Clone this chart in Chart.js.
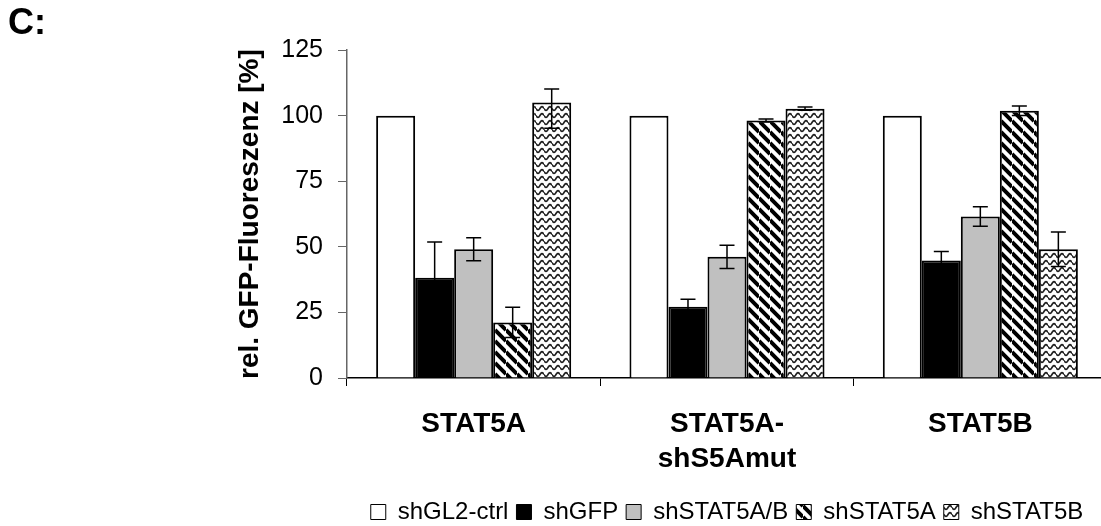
<!DOCTYPE html>
<html>
<head>
<meta charset="utf-8">
<script src="https://cdn.jsdelivr.net/npm/chart.js@4.4.1/dist/chart.umd.min.js"></script>
<style>
  html, body { margin: 0; padding: 0; background: #fff; overflow: hidden; width: 1101px; height: 526px; }
  #myChart { display: block; }
</style>
</head>
<body>
<canvas id="myChart" width="1110" height="534"></canvas>
<script>
// data
const categories = [['STAT5A'], ['STAT5A-', 'shS5Amut'], ['STAT5B']];
const seriesNames = ['shGL2-ctrl', 'shGFP', 'shSTAT5A/B', 'shSTAT5A', 'shSTAT5B'];
const ctrlValues = [100, 100, 100];
const gfpValues = [38.2, 27.2, 44.8];
const stat5abValues = [49.1, 46.2, 61.6];
const stat5aValues = [21.2, 98.2, 101.9];
const stat5bValues = [105.1, 102.7, 49.1];
const ctrlErr = [0, 0, 0];
const gfpErr = [13.7, 2.8, 3.4];
const stat5abErr = [4.4, 4.4, 3.7];
const stat5aErr = [5.8, 0.6, 1.8];
const stat5bErrUp = [5.1, 0.6, 6.6];
const stat5bErrDown = [9.9, 0.6, 6.6];
const yTicks = [0, 25, 50, 75, 100, 125];

Chart.defaults.font.family = "'Liberation Sans', Arial, sans-serif";
Chart.defaults.color = '#000';

function stripes() {
  const s = 11;
  const c = document.createElement('canvas');
  c.width = s; c.height = s;
  const g = c.getContext('2d');
  g.fillStyle = '#fff';
  g.fillRect(0, 0, s, s);
  g.strokeStyle = '#000';
  g.lineWidth = 4;
  g.beginPath();
  for (let k = -1; k <= 1; k++) {
    g.moveTo(0, k * s);
    g.lineTo(s, k * s + s);
  }
  g.stroke();
  return g.createPattern(c, 'repeat');
}

function waves() {
  const w = 8, h = 7;
  const c = document.createElement('canvas');
  c.width = w; c.height = h;
  const g = c.getContext('2d');
  g.fillStyle = '#fff';
  g.fillRect(0, 0, w, h);
  g.strokeStyle = '#222';
  g.lineWidth = 1.7;
  g.beginPath();
  for (let x = 0; x <= w; x += 0.5) {
    const y = 3.5 + 1.9 * Math.sin(2 * Math.PI * x / w);
    if (x === 0) g.moveTo(x, y); else g.lineTo(x, y);
  }
  g.stroke();
  return g.createPattern(c, 'repeat');
}

const errorBars = {
  id: 'errorBars',
  afterDatasetsDraw(chart) {
    const { ctx, scales: { y } } = chart;
    ctx.save();
    ctx.strokeStyle = '#000';
    ctx.lineWidth = 1.5;
    chart.data.datasets.forEach((ds, i) => {
      chart.getDatasetMeta(i).data.forEach((bar, j) => {
        const up = ds.errUp[j], down = ds.errDown[j];
        if (!up && !down) return;
        const v = ds.data[j];
        const top = y.getPixelForValue(v + up);
        const bot = y.getPixelForValue(v - down);
        const x = bar.x, cap = 7.5;
        ctx.beginPath();
        ctx.moveTo(x, top); ctx.lineTo(x, bot);
        ctx.moveTo(x - cap, top); ctx.lineTo(x + cap, top);
        ctx.moveTo(x - cap, bot); ctx.lineTo(x + cap, bot);
        ctx.stroke();
      });
    });
    ctx.restore();
  }
};

const ctx = document.getElementById('myChart').getContext('2d');
new Chart(ctx, {
  type: 'bar',
  data: {
    labels: categories,
    datasets: [
      { label: seriesNames[0], data: ctrlValues, errUp: ctrlErr, errDown: ctrlErr, backgroundColor: '#fff' },
      { label: seriesNames[1], data: gfpValues, errUp: gfpErr, errDown: gfpErr, backgroundColor: '#000' },
      { label: seriesNames[2], data: stat5abValues, errUp: stat5abErr, errDown: stat5abErr, backgroundColor: '#c0c0c0' },
      { label: seriesNames[3], data: stat5aValues, errUp: stat5aErr, errDown: stat5aErr, backgroundColor: stripes() },
      { label: seriesNames[4], data: stat5bValues, errUp: stat5bErrUp, errDown: stat5bErrDown, backgroundColor: waves() }
    ]
  },
  options: {
    responsive: false,
    animation: false,
    devicePixelRatio: 1,
    datasets: {
      bar: { borderColor: '#000', borderWidth: 2, categoryPercentage: 0.77, barPercentage: 1.0 }
    },
    layout: { padding: { left: 8, right: 3, top: 0, bottom: 0 } },
    scales: {
      x: {
        grid: { drawOnChartArea: false, tickLength: 8, color: '#000', lineWidth: 1 },
        border: { color: '#000', width: 1.5 },
        ticks: { font: { size: 28, weight: 'bold', lineHeight: 1.25 }, padding: 21, maxRotation: 0, autoSkip: false },
        afterFit: s => { s.height = 114; }
      },
      y: {
        min: 0,
        max: 125,
        afterBuildTicks: s => { s.ticks = yTicks.map(v => ({ value: v })); },
        grid: { drawOnChartArea: false, tickLength: 9, color: '#666' },
        border: { color: '#666', width: 1.5 },
        ticks: { font: { size: 25 }, padding: 15 },
        title: {
          display: true,
          text: 'rel. GFP-Fluoreszenz [%]',
          font: { size: 28, weight: 'bold', lineHeight: 1.2 },
          padding: { top: 225, bottom: 0 }
        },
        afterFit: s => { s.width = 339; }
      }
    },
    plugins: {
      title: {
        display: true,
        text: 'C:',
        align: 'start',
        font: { size: 36, weight: 'bold', lineHeight: 1.2 },
        padding: { top: 2, bottom: 5 }
      },
      legend: {
        position: 'bottom',
        fullSize: false,
        labels: {
          font: { size: 24 },
          boxWidth: 15,
          boxHeight: 15,
          padding: 8,
          generateLabels: chart => Chart.defaults.plugins.legend.labels.generateLabels(chart)
            .map(l => ({ ...l, lineWidth: 1, strokeStyle: '#000' }))
        }
      },
      tooltip: { enabled: false }
    }
  },
  plugins: [errorBars]
});
</script>
</body>
</html>
